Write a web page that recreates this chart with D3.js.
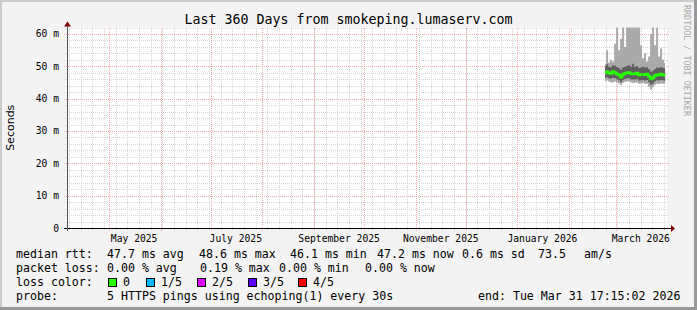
<!DOCTYPE html>
<html><head><meta charset="utf-8">
<script src="https://cdn.jsdelivr.net/npm/d3@7"></script>
<style>body{margin:0;background:#fff;} svg{display:block;}</style>
</head><body><svg id="c" width="697" height="310"></svg>
<script>
// ---------- data ----------
const title = "Last 360 Days from smokeping.lumaserv.com";
const yAxisTitle = "Seconds";
const watermark = "RRDTOOL / TOBI OETIKER";
const endTime = "2026-03-31T17:15:02";
const rangeDays = 360;
const yMax = 62;
const yTickValues = [0, 10, 20, 30, 40, 50, 60];
const yTickLabels = ["0", "10 m", "20 m", "30 m", "40 m", "50 m", "60 m"];
const xLabelMonths = ["2025-05-01", "2025-07-01", "2025-09-01", "2025-11-01", "2026-01-01", "2026-03-01"];
const xLabelTexts = ["May 2025", "July 2025", "September 2025", "November 2025", "January 2026", "March 2026"];
const smokeStart = "2026-02-22T14:00:00";
const smokeStepHours = 28.8;
const median   = [48.0,48.3,47.9,47.8,48.4,48.1,47.6,47.3,46.6,47.5,47.8,48.0,48.1,47.7,47.6,47.7,47.9,47.3,47.5,47.5,47.4,47.6,46.9,46.1,46.5,47.1,47.4,47.3,47.6,47.4,47.2];
const bandHigh = [50.0,50.6,49.8,49.7,50.3,50.2,49.8,49.4,48.9,49.6,49.9,50.1,50.4,49.9,50.8,49.8,50.1,49.5,49.6,49.9,49.6,49.7,49.1,48.3,48.7,49.2,49.6,49.5,49.8,49.5,49.4];
const bandLow  = [46.4,46.6,46.3,46.2,46.5,46.4,46.0,45.7,45.1,45.8,46.1,46.3,46.3,45.9,45.9,45.9,46.1,45.6,45.7,45.8,45.6,45.8,45.1,44.3,44.7,45.4,45.7,45.6,45.8,45.7,45.5];
const smokeMin = [45.3,45.6,45.3,45.1,45.0,45.3,45.0,44.7,44.2,44.9,45.2,45.3,45.4,45.0,44.9,44.9,45.0,44.6,44.7,44.8,44.6,44.6,43.6,42.8,43.6,44.3,44.6,44.5,44.7,44.6,44.5];
const smokeMax = [50.8,55.0,51.2,52.0,51.5,57.0,62.0,55.0,58.5,62.0,56.0,62.0,62.0,62.0,62.0,62.0,62.0,62.0,56.5,52.5,54.0,51.5,53.0,60.0,62.0,56.5,62.0,53.0,55.5,52.0,51.0];
const lossLabels = ["0", "1/5", "2/5", "3/5", "4/5"];
const lossColors = ["#26ff00", "#00b8ff", "#dd00ff", "#5e00ff", "#ff0000"];
const legendRows = [
  ["median rtt:", "47.7 ms avg", "48.6 ms max", "46.1 ms min", "47.2 ms now", "0.6 ms sd", "73.5", "am/s"],
  ["packet loss:", "0.00 % avg", "0.19 % max", "0.00 % min", "0.00 % now"],
  ["loss color:"],
  ["probe:", "5 HTTPS pings using echoping(1) every 30s", "end: Tue Mar 31 17:15:02 2026"]
];
const legendX = [
  [16, 107, 199, 290, 377, 462, 538, 584],
  [16, 107, 200, 279, 365],
  [16],
  [16, 107, 478]
];

// ---------- drawing ----------
const W = 697, H = 310;
const L = 67, R = 667, T = 27.5, B = 228;
const mono = "'DejaVu Sans Mono', monospace";
const svg = d3.select("#c");

svg.append("rect").attr("width", W).attr("height", H).attr("fill", "#f3f3f3");
svg.append("path").attr("d", `M0,${H} V0 H${W}`).attr("fill", "none").attr("stroke", "#cbcbcb").attr("stroke-width", 4);
svg.append("path").attr("d", `M0,${H-1.5} H${W-1.5} V0`).attr("fill", "none").attr("stroke", "#999999").attr("stroke-width", 3);

const end = new Date(endTime);
const start = d3.timeDay.offset(end, -rangeDays);
const x = d3.scaleTime().domain([start, end]).range([L, R]);
const y = d3.scaleLinear().domain([0, yMax]).range([B, T]);

svg.append("rect").attr("x", L).attr("y", T).attr("width", R - L).attr("height", B - T).attr("fill", "#ffffff");

const px = v => Math.round(v) + 0.5;
const g = svg.append("g");
y.ticks(31).filter(v => v % 10 !== 0 && v <= yMax).forEach(v => {
  g.append("line").attr("x1", L - 2).attr("x2", R + 2).attr("y1", px(y(v))).attr("y2", px(y(v)))
    .attr("stroke", "#d6d6d6").attr("stroke-dasharray", "1,1");
});
d3.timeMonday.range(start, end).forEach(d => {
  g.append("line").attr("y1", B + 2).attr("y2", T).attr("x1", px(x(d))).attr("x2", px(x(d)))
    .attr("stroke", "#d6d6d6").attr("stroke-dasharray", "1,1");
});
yTickValues.filter(v => v > 0).forEach(v => {
  g.append("line").attr("x1", L - 3).attr("x2", R + 2).attr("y1", px(y(v))).attr("y2", px(y(v)))
    .attr("stroke", "#f4a8a8").attr("stroke-dasharray", "1,1");
});
d3.timeMonth.range(d3.timeMonth.ceil(start), end).forEach(d => {
  g.append("line").attr("y1", B + 3).attr("y2", T).attr("x1", px(x(d))).attr("x2", px(x(d)))
    .attr("stroke", "#f4a8a8").attr("stroke-dasharray", "1,1");
});

const times = median.map((_, i) => d3.timeHour.offset(new Date(smokeStart), Math.round(i * smokeStepHours)));
const clip = v => Math.min(v, yMax);
const area = (lo, hi) => d3.area().curve(d3.curveStep)
  .x((d, i) => x(times[i])).y0((d, i) => y(lo[i])).y1((d, i) => y(clip(hi[i])));
svg.append("path").datum(median).attr("d", area(smokeMin, smokeMax)).attr("fill", "#aaaaaa");
svg.append("path").datum(median).attr("d", area(bandLow, bandHigh)).attr("fill", "#5e5e5e");
svg.append("path").datum(median)
  .attr("d", d3.line().curve(d3.curveStep).x((d, i) => x(times[i])).y(d => y(d)))
  .attr("fill", "none").attr("stroke", lossColors[0]).attr("stroke-width", 2.5);

svg.append("line").attr("x1", L - 3).attr("x2", R + 4).attr("y1", px(B)).attr("y2", px(B)).attr("stroke", "#000");
svg.append("line").attr("x1", px(L)).attr("x2", px(L)).attr("y1", B + 3).attr("y2", T - 2).attr("stroke", "#555");
svg.append("path").attr("d", `M${R+4},${px(B)-3.5} L${R+8},${px(B)} L${R+4},${px(B)+3.5} Z`).attr("fill", "#7f0000");
svg.append("path").attr("d", `M${px(L)-3.5},${T-1} L${px(L)},${T-6} L${px(L)+3.5},${T-1} Z`).attr("fill", "#7f0000");

yTickValues.forEach((v, i) => {
  svg.append("text").attr("x", 59).attr("y", y(v) + 3.5).attr("text-anchor", "end")
    .attr("font-family", mono).attr("font-size", 9.7).attr("fill", "#000").text(yTickLabels[i]);
});
xLabelMonths.forEach((m, i) => {
  const d = d3.timeDay.offset(new Date(m + "T00:00:00"), 15);
  svg.append("text").attr("x", x(d)).attr("y", 241.5).attr("text-anchor", "middle")
    .attr("font-family", mono).attr("font-size", 9.7).attr("fill", "#000").text(xLabelTexts[i]);
});

svg.append("text").attr("x", 348.5).attr("y", 24).attr("text-anchor", "middle")
  .attr("font-family", mono).attr("font-size", 13.3).attr("fill", "#000").text(title);
svg.append("text").attr("transform", `translate(14,${(T + B) / 2}) rotate(-90)`).attr("text-anchor", "middle")
  .attr("font-family", "'DejaVu Sans', sans-serif").attr("font-size", 11).attr("fill", "#000").text(yAxisTitle);
svg.append("text").attr("transform", `translate(684,5) rotate(90)`).attr("text-anchor", "start")
  .attr("font-family", mono).attr("font-size", 8.4).attr("fill", "#a8a8a8").text(watermark);

const rowY = [258, 272, 286, 300];
legendRows.forEach((row, r) => {
  row.forEach((t, k) => {
    svg.append("text").attr("x", legendX[r][k]).attr("y", rowY[r]).attr("xml:space", "preserve")
      .attr("font-family", mono).attr("font-size", 11.6).attr("fill", "#000").text(t);
  });
});
const boxX = [108, 146, 197, 248, 298];
lossLabels.forEach((lab, i) => {
  svg.append("rect").attr("x", boxX[i] + 0.5).attr("y", 278.5).attr("width", 8).attr("height", 8)
    .attr("fill", lossColors[i]).attr("stroke", "#000");
  svg.append("text").attr("x", boxX[i] + 15).attr("y", rowY[2]).attr("font-family", mono)
    .attr("font-size", 11.6).attr("fill", "#000").text(lab);
});
</script></body></html>
